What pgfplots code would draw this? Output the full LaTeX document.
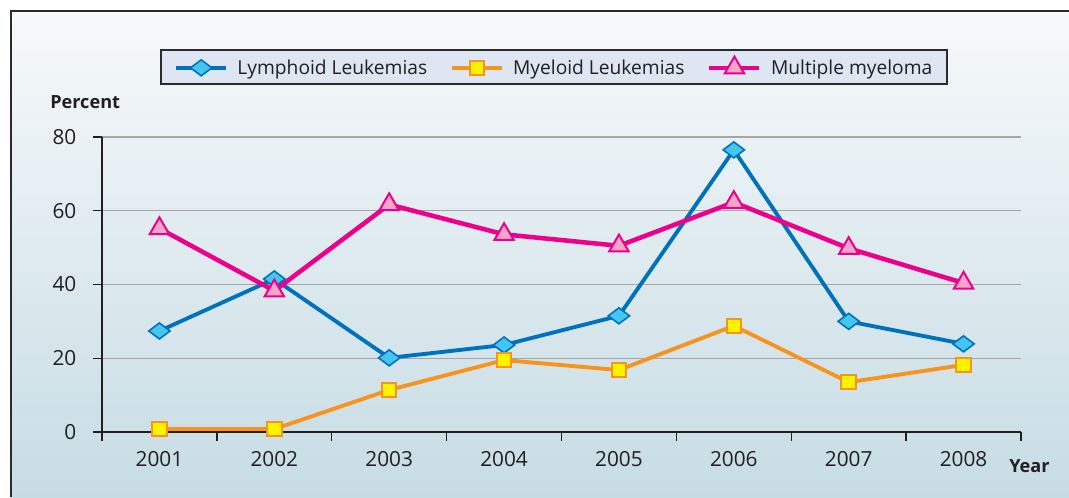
\documentclass[border=0pt]{standalone}
\usepackage{pgfplots}
\pgfplotsset{compat=1.18}
\usepackage{fontspec}
\setmainfont{Open Sans}
\definecolor{lblue}{HTML}{0072BC}
\definecolor{lcyan}{HTML}{45C6F0}
\definecolor{morange}{HTML}{F7941D}
\definecolor{myellow}{HTML}{FFF200}
\definecolor{mpink}{HTML}{EC008C}
\definecolor{mlpink}{HTML}{F5A7C9}
\definecolor{legfill}{HTML}{DEE6F3}
\definecolor{frame}{HTML}{2B2B2B}
\definecolor{txt}{HTML}{231F20}
\definecolor{bgtop}{HTML}{F7F9FA}
\definecolor{bgbot}{HTML}{C6DCE4}
\newcommand\px[2]{({((#1)-102)*0.75pt},{(432-(#2))*0.75pt})}
\begin{document}
\begin{tikzpicture}
\fill[white] \px{0}{497} rectangle \px{1069}{0};
\shade[top color=bgtop, bottom color=bgbot] \px{11}{497} rectangle \px{1069}{11};
\draw[frame, line width=1.9pt] \px{11}{497} -- \px{11}{11} -- \px{1069}{11};
\begin{axis}[
  at={(0,0)}, anchor=south west,
  scale only axis, width=689.25pt, height=221.25pt,
  xmin=-0.5, xmax=7.5, ymin=0, ymax=80,
  clip=false,
  axis lines=left,
  axis line style={-, line width=1.1pt, color=txt},
  tick align=outside,
  major tick length=6.75pt,
  tick style={line width=1.1pt, color=txt},
  ytick={0,20,40,60,80},
  ymajorgrids,
  major grid style={line width=0.9pt, color=black!35},
  xtick={-0.5,0.5,...,7.5},
  xticklabels={},
  extra x ticks={0,1,2,3,4,5,6,7},
  extra x tick labels={2001,2002,2003,2004,2005,2006,2007,2008},
  extra x tick style={major tick length=0pt},
  tick label style={font=\fontsize{15.6}{18}\selectfont, color=txt},
  xticklabel style={yshift=-11pt},
  yticklabel style={xshift=-9pt},
  /pgf/number format/assume math mode=true,
  legend columns=3,
  legend image code/.code={\draw[mark repeat=2,mark phase=2,#1] plot coordinates {(0pt,0pt) (18.75pt,0pt) (37.5pt,0pt)};},
  legend style={at={(0.4918,1.2373)}, anchor=center, draw=frame, line width=1pt, fill=legfill,
    font=\fontsize{14.4}{17}\selectfont, text=txt, inner xsep=10pt, inner ysep=5pt,
    nodes={inner sep=1pt},
    column sep=6pt,
    /tikz/every even column/.append style={column sep=16pt}},
]
\addplot[lblue, line width=2.9pt, mark=diamond*, mark options={rotate=90, mark size=8pt, fill=lcyan, draw=lblue, line width=1.2pt}]
  coordinates {(0,27.4) (1,41.5) (2,20.1) (3,23.6) (4,31.5) (5,76.5) (6,30.0) (7,23.9)};
\addlegendentry{Lymphoid Leukemias}
\addplot[morange, line width=2.9pt, mark=square*, mark options={mark size=5.4pt, fill=myellow, draw=morange, line width=1.5pt}]
  coordinates {(0,0.8) (1,0.8) (2,11.4) (3,19.5) (4,16.8) (5,28.8) (6,13.5) (7,18.2)};
\addlegendentry{Myeloid Leukemias}
\addplot[mpink, line width=3.4pt, mark=triangle*, mark options={mark size=8.4pt, fill=mlpink, draw=mpink, line width=1.5pt}]
  coordinates {(0,55.2) (1,38.3) (2,61.7) (3,53.6) (4,50.5) (5,62.3) (6,49.8) (7,40.4)};
\addlegendentry{Multiple myeloma}
\end{axis}
\node[anchor=base west, inner sep=0pt, font=\fontsize{13.6}{16}\selectfont\bfseries, text=txt] at \px{50}{108} {Percent};
\node[anchor=base west, inner sep=0pt, font=\fontsize{13.6}{16}\selectfont\bfseries, text=txt] at \px{1009}{472} {Year};
\pgfresetboundingbox
\path[use as bounding box] \px{0}{497} rectangle \px{1069}{0};
\end{tikzpicture}
\end{document}
